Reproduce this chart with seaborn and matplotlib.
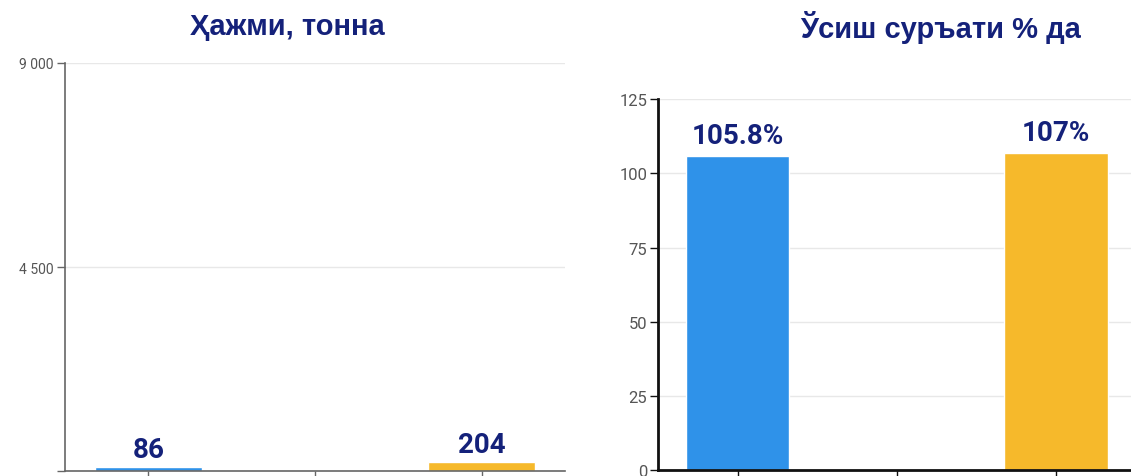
import matplotlib
matplotlib.use("Agg")
import matplotlib.pyplot as plt
import pandas as pd
import seaborn as sns
from matplotlib.ticker import FuncFormatter

# data
periods = ["prev", "gap", "curr"]
volume_t = [86, None, 204]
growth_pct = [105.8, None, 107.0]
volume_labels = ["86", "204"]
growth_labels = ["105.8%", "107%"]
volume_ticks = [0, 4500, 9000]
growth_ticks = [0, 25, 50, 75, 100, 125]

bar_colors = {"prev": "#2F92E9", "gap": "#FFFFFF", "curr": "#F6B92B"}
navy = "#14217A"

sns.set_style("white")
plt.rcParams["font.family"] = ["Roboto", "DejaVu Sans"]

df = pd.DataFrame({"period": periods, "volume": volume_t, "growth": growth_pct})

fig = plt.figure(figsize=(11.31, 4.77), dpi=100)
ax1 = fig.add_axes([0.0575, 0.010, 0.442, 0.856])
ax2 = fig.add_axes([0.582, 0.012, 0.422, 0.778])


def style_axis(ax, ticks, spine_color, spine_w, tick_size):
    ax.set_ylim(ticks[0], ticks[-1])
    ax.set_yticks(ticks)
    ax.grid(axis="y", color="#E8E8E8", linewidth=1)
    ax.set_axisbelow(True)
    for side in ["top", "right"]:
        ax.spines[side].set_visible(False)
    for side in ["left", "bottom"]:
        ax.spines[side].set_color(spine_color)
        ax.spines[side].set_linewidth(spine_w)
    ax.tick_params(axis="y", left=True, length=6, width=1, color=spine_color,
                   labelsize=tick_size, labelcolor="#555555", pad=2)
    ax.tick_params(axis="x", bottom=True, length=6, width=1, color=spine_color)
    ax.set_xticks(range(len(periods)))
    ax.set_xticklabels(["", "", ""])
    ax.set_xlabel("")
    ax.set_ylabel("")


sns.barplot(data=df, x="period", y="volume", hue="period", order=periods,
            palette=bar_colors, saturation=1, width=0.64, legend=False, ax=ax1)
style_axis(ax1, volume_ticks, "#666666", 1.2, 10)
ax1.yaxis.set_major_formatter(
    FuncFormatter(lambda v, p: "" if v == 0 else f"{int(v):,}".replace(",", " ")))

sns.barplot(data=df, x="period", y="growth", hue="period", order=periods,
            palette=bar_colors, saturation=1, width=0.65, legend=False, ax=ax2)
style_axis(ax2, growth_ticks, "#111111", 2.0, 12)

# value labels
for ax, labels, pad in [(ax1, volume_labels, 3), (ax2, growth_labels, 5)]:
    i = 0
    for c in ax.containers:
        for bar in c:
            h = bar.get_height()
            if pd.isna(h) or i >= len(labels):
                continue
            ax.annotate(labels[i], (bar.get_x() + bar.get_width() / 2, h),
                        xytext=(0, pad), textcoords="offset points",
                        ha="center", va="bottom", fontsize=20,
                        fontweight="bold", color=navy)
            i += 1

fig.text(0.254, 0.943, "Ҳажми, тонна", ha="center", va="center",
         fontsize=21, fontweight="bold", color=navy,
         family=["Liberation Sans", "DejaVu Sans"])
fig.text(0.832, 0.943, "Ўсиш суръати % да", ha="center", va="center",
         fontsize=21, fontweight="bold", color=navy,
         family=["Liberation Sans", "DejaVu Sans"])

fig.savefig("out.png", dpi=100)
